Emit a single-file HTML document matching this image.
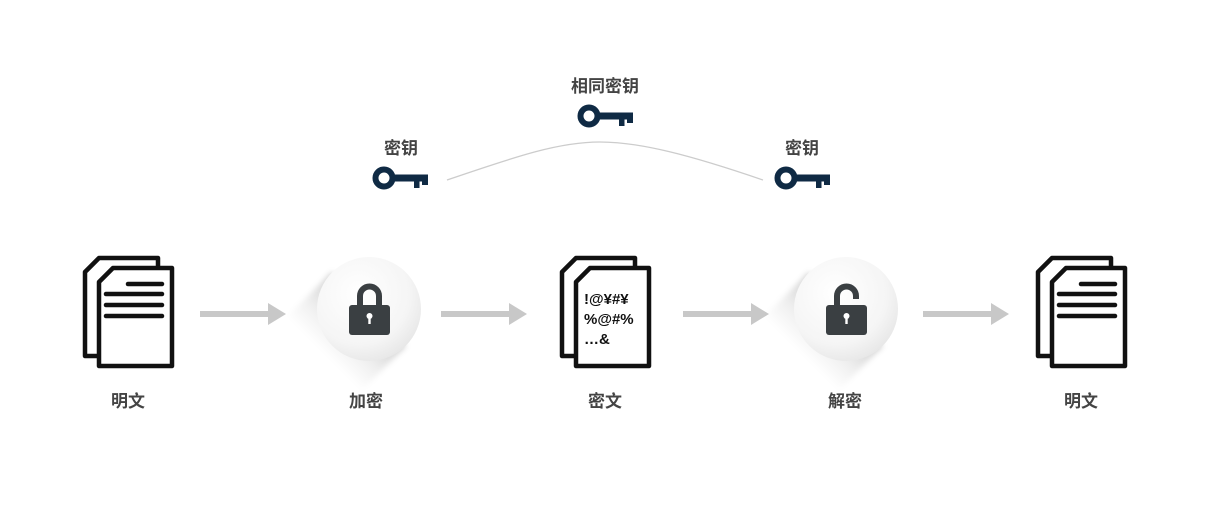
<!DOCTYPE html>
<html><head><meta charset="utf-8"><style>
html,body{margin:0;padding:0;background:#fff;}
body{width:1210px;height:512px;overflow:hidden;}
text{font-family:"Liberation Sans","Noto Sans CJK SC",sans-serif;}
</style></head><body>
<svg width="1210" height="512" viewBox="0 0 1210 512" xmlns="http://www.w3.org/2000/svg">
<defs>
<linearGradient id="sh" gradientUnits="userSpaceOnUse" x1="0" y1="0" x2="-45" y2="45">
<stop offset="0" stop-color="#000" stop-opacity="0.2"/>
<stop offset="0.6" stop-color="#000" stop-opacity="0.06"/>
<stop offset="1" stop-color="#000" stop-opacity="0"/>
</linearGradient>
<filter id="bl" x="-50%" y="-50%" width="200%" height="200%"><feGaussianBlur stdDeviation="3"/></filter>
<radialGradient id="cg" cx="0.4" cy="0.35" r="0.7">
<stop offset="0" stop-color="#ffffff"/>
<stop offset="0.7" stop-color="#f5f5f5"/>
<stop offset="1" stop-color="#e6e6e6"/>
</radialGradient>
<g id="docback">
<path d="M85,272 L99,258 L158,258 L158,356 L85,356 Z" fill="#fff" stroke="#111" stroke-width="4.5" stroke-linejoin="round"/>
<path d="M99,282 L113,268 L172,268 L172,366 L99,366 Z" fill="#fff" stroke="#111" stroke-width="4.5" stroke-linejoin="round"/>
</g>
<g id="circ">
<path d="M-37,-37 L37,37 L-13,87 L-87,13 Z" fill="url(#sh)" filter="url(#bl)"/>
<circle r="52" fill="url(#cg)"/>
</g>
<g id="key">
<circle cx="12" cy="0" r="8.5" fill="none" stroke="#0f2a44" stroke-width="6"/>
<rect x="22" y="-3.5" width="34" height="7" fill="#0f2a44"/>
<rect x="42" y="0" width="5.5" height="10" fill="#0f2a44"/>
<rect x="50" y="0" width="6" height="7" fill="#0f2a44"/>
</g>
<g id="arrow">
<rect x="0" y="-3" width="70" height="6" fill="#c8c8c8"/>
<path d="M68,-11 L86,0 L68,11 Z" fill="#c8c8c8"/>
</g>
</defs>

<g><use href="#docback"/>
<g stroke="#111" stroke-width="4.5" stroke-linecap="round">
<line x1="128" y1="284" x2="162" y2="284"/><line x1="106" y1="294" x2="162" y2="294"/>
<line x1="106" y1="305" x2="162" y2="305"/><line x1="106" y1="316" x2="162" y2="316"/></g></g>

<g transform="translate(477,0)"><use href="#docback"/></g>
<text x="584" y="304" font-size="15" font-weight="bold" fill="#111">!@¥#¥</text>
<text x="584" y="324" font-size="15" font-weight="bold" fill="#111">%@#%</text>
<text x="584" y="344" font-size="15" font-weight="bold" fill="#111">…&amp;</text>

<g transform="translate(953,0)"><use href="#docback"/>
<g stroke="#111" stroke-width="4.5" stroke-linecap="round">
<line x1="128" y1="284" x2="162" y2="284"/><line x1="106" y1="294" x2="162" y2="294"/>
<line x1="106" y1="305" x2="162" y2="305"/><line x1="106" y1="316" x2="162" y2="316"/></g></g>

<use href="#arrow" transform="translate(200,314)"/>
<use href="#arrow" transform="translate(441,314)"/>
<use href="#arrow" transform="translate(683,314)"/>
<use href="#arrow" transform="translate(923,314)"/>

<use href="#circ" transform="translate(369,309)"/>
<use href="#circ" transform="translate(846,309)"/>

<path d="M360,307 V296 a9.5,9.5 0 0 1 19,0 V307" fill="none" stroke="#3a3f42" stroke-width="6"/>
<rect x="349" y="305" width="41" height="30" rx="3" fill="#3a3f42"/>
<circle cx="369.5" cy="316" r="3" fill="#fff"/><rect x="368.3" y="317" width="2.4" height="7" fill="#fff"/>
<path d="M837,307 V296 a9.5,9.5 0 0 1 19,0 V299" fill="none" stroke="#3a3f42" stroke-width="6"/>
<rect x="826" y="305" width="41" height="30" rx="3" fill="#3a3f42"/>
<circle cx="846.5" cy="316" r="3" fill="#fff"/><rect x="845.3" y="317" width="2.4" height="7" fill="#fff"/>

<path d="M447,180 C520,155 560,142 600,142 C640,142 690,155 763,180" fill="none" stroke="#ccc" stroke-width="1.3"/>

<use href="#key" transform="translate(372,178)"/>
<use href="#key" transform="translate(577,116)"/>
<use href="#key" transform="translate(774,178)"/>

<g font-size="17" font-weight="bold" fill="#444" text-anchor="middle">
<text x="401" y="154">密钥</text>
<text x="605" y="92">相同密钥</text>
<text x="802" y="154">密钥</text>
<text x="128" y="407">明文</text>
<text x="366" y="407">加密</text>
<text x="605" y="407">密文</text>
<text x="845" y="407">解密</text>
<text x="1081" y="407">明文</text>
</g>
</svg>
</body></html>
